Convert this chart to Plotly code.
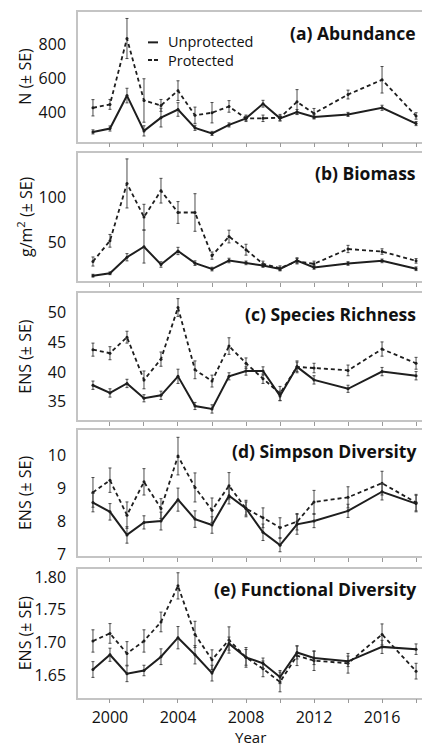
import plotly.graph_objects as go
from plotly.subplots import make_subplots

years = [1999, 2000, 2001, 2002, 2003, 2004, 2005, 2006, 2007, 2008, 2009, 2010, 2011, 2012, 2014, 2016, 2018]

abund_unp = [283, 303, 497, 289, 367, 415, 307, 274, 324, 363, 449, 363, 400, 371, 386, 425, 332]
abund_unp_se = [12, 15, 43, 30, 55, 40, 15, 12, 12, 12, 20, 15, 15, 12, 12, 15, 12]
abund_pro = [425, 445, 833, 468, 439, 526, 381, 396, 433, 363, 363, 367, 460, 392, 503, 590, 377]
abund_pro_se = [48, 29, 118, 128, 35, 58, 48, 60, 34, 19, 19, 19, 72, 29, 26, 78, 19]

bio_unp = [13.4, 16, 33.7, 45.3, 25.7, 40.6, 27.2, 20.7, 30.1, 27.5, 24.6, 20.7, 30.1, 22.5, 26.8, 29.7, 21]
bio_unp_se = [1.5, 1.5, 4, 18, 3, 4, 2.5, 2, 2.5, 2, 2, 2, 3, 2, 2, 2, 2]
bio_pro = [29, 51.8, 115, 78, 107, 83, 83, 35.5, 56.5, 42, 26.4, 21.7, 29.3, 26.4, 42.8, 40, 29.7]
bio_pro_se = [5, 7, 27, 14, 13.6, 12, 20.7, 4, 7, 6, 3, 2.5, 3, 3, 4, 3, 2.5]

rich_unp = [37.8, 36.5, 38.1, 35.6, 36.1, 39.3, 34.3, 33.8, 39.3, 40.2, 40.2, 36.0, 40.9, 38.7, 37.2, 40.1, 39.4]
rich_unp_se = [0.7, 0.7, 0.7, 0.6, 0.7, 1.2, 0.6, 0.7, 0.6, 0.7, 0.7, 0.8, 0.8, 0.7, 0.6, 0.7, 0.7]
rich_pro = [43.8, 43.2, 45.9, 38.7, 42.2, 50.9, 40.4, 38.5, 44.4, 41.5, 38.9, 36.4, 40.9, 40.7, 40.3, 43.9, 41.5]
rich_pro_se = [1.1, 1.1, 1.0, 1.5, 1.2, 1.5, 1.5, 1.0, 1.4, 0.9, 0.8, 1.2, 1.0, 0.8, 0.9, 1.2, 1.0]

simp_unp = [8.56, 8.28, 7.58, 7.96, 8.0, 8.65, 8.06, 7.88, 8.77, 8.38, 7.66, 7.27, 7.9, 8.0, 8.31, 8.89, 8.53]
simp_unp_se = [0.28, 0.25, 0.25, 0.2, 0.27, 0.35, 0.25, 0.25, 0.25, 0.25, 0.25, 0.2, 0.3, 0.2, 0.2, 0.25, 0.25]
simp_pro = [8.87, 9.24, 8.18, 9.19, 8.38, 9.97, 9.02, 8.33, 9.07, 8.38, 8.1, 7.8, 7.98, 8.58, 8.72, 9.15, 8.56]
simp_pro_se = [0.45, 0.37, 0.4, 0.4, 0.3, 0.57, 0.44, 0.37, 0.4, 0.2, 0.3, 0.3, 0.25, 0.35, 0.32, 0.36, 0.25]

func_unp = [1.659, 1.6815, 1.6525, 1.6575, 1.6785, 1.7075, 1.6815, 1.6535, 1.6985, 1.6775, 1.6685, 1.6475, 1.685, 1.6765, 1.6715, 1.6935, 1.69]
func_unp_se = [0.012, 0.01, 0.012, 0.008, 0.012, 0.017, 0.014, 0.012, 0.01, 0.012, 0.008, 0.01, 0.01, 0.01, 0.008, 0.01, 0.008]
func_pro = [1.7025, 1.714, 1.6835, 1.7025, 1.7315, 1.7865, 1.7125, 1.674, 1.704, 1.6775, 1.66, 1.64, 1.68, 1.6725, 1.6685, 1.7125, 1.6565]
func_pro_se = [0.017, 0.015, 0.018, 0.017, 0.015, 0.02, 0.02, 0.015, 0.02, 0.015, 0.012, 0.015, 0.015, 0.015, 0.015, 0.016, 0.012]

panel_titles = ["(a) Abundance", "(b) Biomass", "(c) Species Richness", "(d) Simpson Diversity", "(e) Functional Diversity"]
y_titles = ["N (± SE)", "g/m<sup>2</sup> (± SE)", "ENS (± SE)", "ENS (± SE)", "ENS (± SE)"]
y_ranges = [[225, 990], [7, 149], [31.9, 53.3], [6.94, 10.76], [1.616, 1.8125]]
y_ticks = [[400, 600, 800], [50, 100], [35, 40, 45, 50], [7, 8, 9, 10], [1.65, 1.70, 1.75, 1.80]]
legend_names = ["Unprotected", "Protected"]

series = [
    (abund_unp, abund_unp_se, abund_pro, abund_pro_se),
    (bio_unp, bio_unp_se, bio_pro, bio_pro_se),
    (rich_unp, rich_unp_se, rich_pro, rich_pro_se),
    (simp_unp, simp_unp_se, simp_pro, simp_pro_se),
    (func_unp, func_unp_se, func_pro, func_pro_se),
]

W, H = 422, 751
L = 78
panel_px = [(9, 141), (152, 283), (295, 424), (434, 562), (575, 706)]

FONT = "Open Sans"
LINE = "#1e1e1e"
GRID = "#c4c4c4"

fig = make_subplots(rows=5, cols=1, shared_xaxes=False)

for i, (u, use, p, pse) in enumerate(series):
    r = i + 1
    fig.add_trace(go.Scatter(
        x=years, y=p, mode="lines+markers", name=legend_names[1], showlegend=False,
        line=dict(color=LINE, width=1.8, dash="4px,3px"),
        marker=dict(size=3, color=LINE),
        error_y=dict(type="data", array=pse, color="#3a3a3a", thickness=0.9, width=1.5),
    ), row=r, col=1)
    fig.add_trace(go.Scatter(
        x=years, y=u, mode="lines+markers", name=legend_names[0], showlegend=False,
        line=dict(color=LINE, width=2),
        marker=dict(size=3, color=LINE),
        error_y=dict(type="data", array=use, color="#3a3a3a", thickness=0.9, width=1.5),
    ), row=r, col=1)

for i in range(5):
    r = i + 1
    top, bot = panel_px[i]
    dom = [1 - bot / H, 1 - top / H]
    xa = "xaxis" if r == 1 else f"xaxis{r}"
    ya = "yaxis" if r == 1 else f"yaxis{r}"
    fig.layout[ya].update(
        domain=dom, range=y_ranges[i], tickvals=y_ticks[i],
        tickformat=".2f" if i == 4 else None,
        showgrid=False, zeroline=False, showline=True, linecolor=GRID, linewidth=1.5,
        ticks="outside", ticklen=7, tickcolor="rgba(0,0,0,0)",
        tickfont=dict(family=FONT, size=16, color="#111"),
    )
    fig.layout[xa].update(
        range=[1998.12, 2018.35], tick0=2000, dtick=4, tickmode="linear",
        showticklabels=(r == 5),
        showgrid=False, zeroline=False, showline=True, mirror=True,
        linecolor=GRID, linewidth=1.5,
        ticks="outside", ticklen=4, tickcolor="#999", tickwidth=1,
        minor=dict(ticks="outside", ticklen=4, tickcolor="#999", tickwidth=1,
                   tick0=2000, dtick=2, showgrid=False),
        tickfont=dict(family=FONT, size=16, color="#111"),
    )
    fig.add_annotation(
        xref="paper", yref="paper", x=(418 - L) / (W - L), y=1 - (top + 21) / H,
        text=f"<b>{panel_titles[i]}</b>", showarrow=False, xanchor="right", yanchor="middle",
        font=dict(family=FONT, size=17.5, color="#111"),
    )
    fig.add_annotation(
        xref="paper", yref="paper", x=(25 - L) / (W - L), y=1 - ((top + bot) / 2) / H,
        text=y_titles[i], showarrow=False, textangle=-90, xanchor="center", yanchor="middle",
        font=dict(family=FONT, size=16, color="#111"),
    )

# legend (panel a)
leg_y = [40, 58]
for k in range(2):
    fig.add_shape(type="line", xref="paper", yref="paper",
                  x0=(148 - L) / (W - L), x1=(158 - L) / (W - L),
                  y0=1 - leg_y[k] / H, y1=1 - leg_y[k] / H,
                  line=dict(color=LINE, width=2, dash="solid" if k == 0 else "4px,2px"))
fig.add_annotation(xref="paper", yref="paper", x=(166 - L) / (W - L), y=1 - 49 / H,
                   text="<br>".join(legend_names), showarrow=False, xanchor="left", yanchor="middle",
                   align="left", font=dict(family=FONT, size=14.5, color="#111"))

fig.add_annotation(xref="paper", yref="paper", x=(250 - L) / (W - L), y=1 - 746 / H,
                   text="Year", showarrow=False, xanchor="center", yanchor="middle",
                   font=dict(family=FONT, size=15, color="#111"))

fig.update_layout(
    width=W, height=H,
    margin=dict(l=L, r=0, t=0, b=0),
    paper_bgcolor="white", plot_bgcolor="white",
    showlegend=False,
)

fig.write_html("out.html")
